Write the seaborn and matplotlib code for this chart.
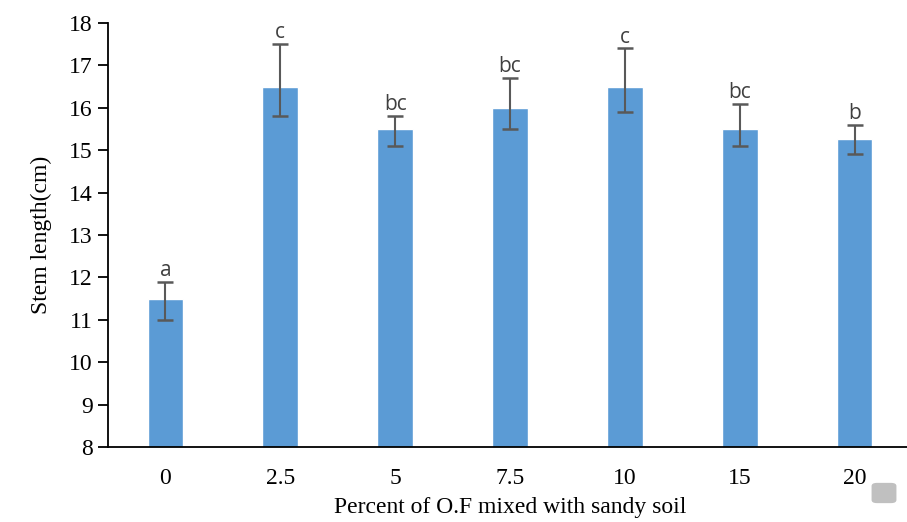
import matplotlib
matplotlib.use("Agg")
import matplotlib.pyplot as plt
import seaborn as sns
import numpy as np
import pandas as pd
from matplotlib.patches import FancyBboxPatch

categories = ["0", "2.5", "5", "7.5", "10", "15", "20"]
means = [11.5, 16.5, 15.5, 16.0, 16.5, 15.5, 15.27]
err_low = [11.0, 15.8, 15.1, 15.5, 15.9, 15.1, 14.9]
err_high = [11.9, 17.5, 15.8, 16.7, 17.4, 16.1, 15.6]
letters = ["a", "c", "bc", "bc", "c", "bc", "b"]
yticks = [8, 9, 10, 11, 12, 13, 14, 15, 16, 17, 18]

df = pd.DataFrame({"cat": categories, "val": means})

sns.set_theme(style="white")
plt.rcParams['font.family'] = ['Liberation Serif', 'DejaVu Serif']

W, H = 907, 522
fig = plt.figure(figsize=(W / 100, H / 100), dpi=100)
ax = fig.add_axes([108 / W, (H - 447) / H, (912 - 108) / W, (447 - 23) / H])

sns.barplot(data=df, x="cat", y="val", order=categories, color="#5B9BD5",
            saturation=1, width=0.31, ax=ax, errorbar=None, bottom=0)

pos = np.arange(len(categories))
m = np.array(means)
lo = m - np.array(err_low)
hi = np.array(err_high) - m
ax.errorbar(pos, m, yerr=[lo, hi], fmt="none", ecolor="#595959",
            elinewidth=1.5, capsize=6, capthick=1.8, zorder=5)

for p, t, h in zip(pos, letters, err_high):
    ax.text(p, h + 0.02, t, ha="center", va="bottom", fontsize=15,
            color="#404040", family=["Open Sans", "DejaVu Sans"])

ax.set_ylim(8, 18)
ax.set_xlim(-0.5, len(categories) - 0.5)
ax.set_yticks(yticks)
ax.set_yticklabels([str(v) for v in yticks])
ax.set_xticks(pos)
ax.set_xticklabels(categories)
ax.set_xticks(np.arange(len(categories) + 1) - 0.5, minor=True)
ax.tick_params(axis="x", which="major", length=0, pad=15, labelsize=17, colors="black")
ax.tick_params(axis="x", which="minor", length=6, width=1.3, direction="out", color="black")
ax.tick_params(axis="y", which="major", length=7, width=1.3, direction="out", pad=4,
               labelsize=17, colors="black", left=True)

for s in ["top", "right"]:
    ax.spines[s].set_visible(False)
for s in ["left", "bottom"]:
    ax.spines[s].set_visible(True)
    ax.spines[s].set_color("black")
    ax.spines[s].set_linewidth(1.3)

ax.set_xlabel("Percent of O.F mixed with sandy soil", fontsize=17, color="black", labelpad=6)
ax.set_ylabel("Stem length(cm)", fontsize=17, color="black", labelpad=12)

blob = FancyBboxPatch((877 / W, (H - 500) / H), 14 / W, 14 / H,
                      boxstyle="round,pad=0.006", transform=fig.transFigure,
                      facecolor="#c0c0c0", edgecolor="none")
fig.patches.append(blob)

fig.savefig("out.png", dpi=100)
